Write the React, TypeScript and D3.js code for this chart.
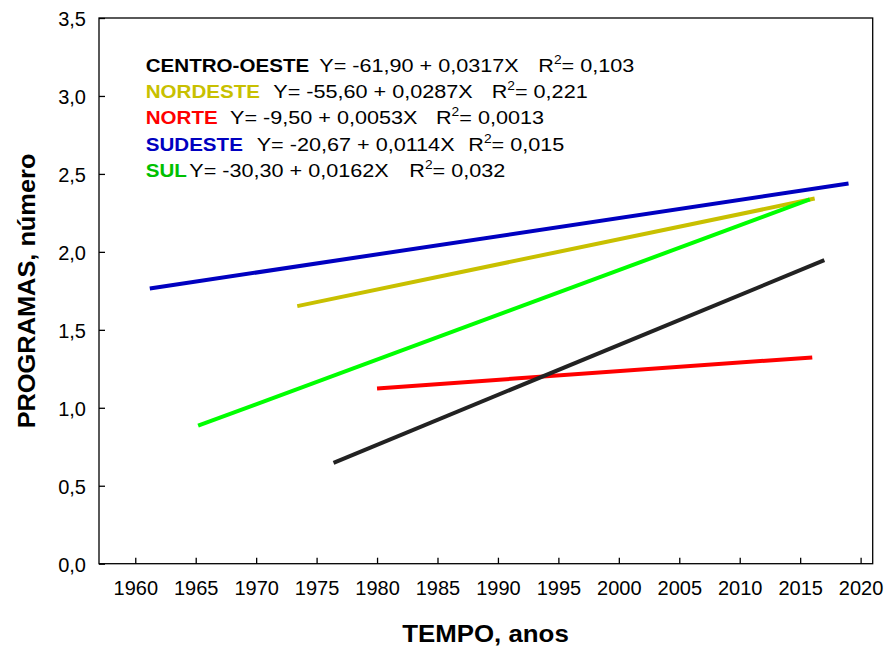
import React, { useEffect, useRef } from 'react';
import * as d3 from 'd3';

// regression lines: start / end of each fitted segment
const regions = ['SUDESTE', 'NORDESTE', 'SUL', 'NORTE', 'CENTRO-OESTE'];
const startYears = [1961.2, 1973.4, 1965.2, 1980.0, 1976.4];
const endYears = [2019.0, 2016.2, 2015.8, 2016.0, 2017.0];
const startValues = [1.765, 1.652, 0.885, 1.124, 0.647];
const endValues = [2.438, 2.342, 2.336, 1.323, 1.947];
const lineColors = ['#0000c0', '#c8c000', '#00ff00', '#ff0000', '#222222'];

// legend rows (top to bottom)
const legendNames = ['CENTRO-OESTE', 'NORDESTE', 'NORTE', 'SUDESTE', 'SUL'];
const legendEquations = [
  'Y= -61,90 + 0,0317X',
  'Y= -55,60 + 0,0287X',
  'Y= -9,50 + 0,0053X',
  'Y= -20,67 + 0,0114X',
  'Y= -30,30 + 0,0162X',
];
const legendR2 = ['0,103', '0,221', '0,0013', '0,015', '0,032'];
const legendColors = ['#000000', '#c8c000', '#ff0000', '#0000c0', '#00c000'];

const xTicks = [1960, 1965, 1970, 1975, 1980, 1985, 1990, 1995, 2000, 2005, 2010, 2015, 2020];
const yTicks = [0, 0.5, 1.0, 1.5, 2.0, 2.5, 3.0, 3.5];
const yTickLabels = ['0,0', '0,5', '1,0', '1,5', '2,0', '2,5', '3,0', '3,5'];

const FONT = '"Liberation Sans", Arial, sans-serif';

const App = () => {
  const ref = useRef(null);

  const graph = () => {
    const svg = d3.select(ref.current);
    svg.selectAll('*').remove();

    const left = 99, right = 872.7, top = 18, bottom = 563.7;

    const x = d3.scaleLinear().domain([1957, 2021]).range([left, right]);
    const y = d3.scaleLinear().domain([0, 3.5]).range([bottom, top]);

    const xAxis = svg.append('g')
      .attr('transform', `translate(0, ${bottom})`)
      .call(d3.axisBottom(x).tickValues(xTicks).tickFormat(d => String(d))
        .tickSizeInner(-6).tickSizeOuter(0).tickPadding(17));

    const yAxis = svg.append('g')
      .attr('transform', `translate(${left}, 0)`)
      .call(d3.axisLeft(y).tickValues(yTicks).tickFormat((d, i) => yTickLabels[i])
        .tickSizeInner(-6).tickSizeOuter(0).tickPadding(13));

    [xAxis, yAxis].forEach(a => {
      a.select('.domain').remove();
      a.selectAll('line').attr('stroke', '#000').attr('stroke-width', 1.3);
      a.selectAll('text')
        .style('font-family', FONT)
        .style('font-size', '20px')
        .attr('fill', '#000');
    });
    yAxis.selectAll('text').attr('dy', '0.38em');

    svg.append('rect')
      .attr('x', left).attr('y', top)
      .attr('width', right - left).attr('height', bottom - top)
      .attr('fill', 'none').attr('stroke', '#000').attr('stroke-width', 1.3);

    const segs = regions.map((r, i) => ({
      r, c: lineColors[i],
      pts: [[startYears[i], startValues[i]], [endYears[i], endValues[i]]],
    }));

    const line = d3.line().x(d => x(d[0])).y(d => y(d[1]));

    svg.selectAll('path.reg')
      .data(segs)
      .enter()
      .append('path')
      .attr('class', 'reg')
      .attr('d', d => line(d.pts))
      .attr('fill', 'none')
      .attr('stroke', d => d.c)
      .attr('stroke-width', 4)
      .attr('stroke-linecap', 'butt');

    // legend
    const rowY = [71.7, 98.3, 124.3, 150.7, 176.7];
    const eqX = [319.3, 273.3, 230, 256.7, 189.3];
    const rX = [538.3, 491.7, 436, 468.3, 409.3];
    const sx = 1.15, sxBold = 1.095;

    legendNames.forEach((name, i) => {
      const g = svg.append('g')
        .style('font-family', FONT)
        .style('font-size', '18.8px');

      g.append('text')
        .attr('transform', `translate(145.7, ${rowY[i]}) scale(${sxBold}, 1)`)
        .attr('fill', legendColors[i])
        .style('font-weight', 'bold')
        .text(name);

      g.append('text')
        .attr('transform', `translate(${eqX[i]}, ${rowY[i]}) scale(${sx}, 1)`)
        .attr('fill', '#000')
        .text(legendEquations[i]);

      const t = g.append('text')
        .attr('transform', `translate(${rX[i]}, ${rowY[i]}) scale(${sx}, 1)`)
        .attr('fill', '#000');
      t.append('tspan').text('R');
      t.append('tspan').attr('dy', -8).style('font-size', '12px').text('2');
      t.append('tspan').attr('dy', 8).text('= ' + legendR2[i]);
    });

    // axis titles
    svg.append('text')
      .attr('transform', `translate(485.5, 641.7) scale(1.1, 1)`)
      .attr('text-anchor', 'middle')
      .style('font-family', FONT)
      .style('font-size', '23.5px')
      .style('font-weight', 'bold')
      .text('TEMPO, anos');

    svg.append('text')
      .attr('transform', `translate(35, 291) rotate(-90) scale(1.08, 1)`)
      .attr('text-anchor', 'middle')
      .style('font-family', FONT)
      .style('font-size', '23.5px')
      .style('font-weight', 'bold')
      .text('PROGRAMAS, número');
  };

  useEffect(() => graph());

  return (
    <svg ref={ref} width="885" height="646"
      style={{ position: 'absolute', left: 0, top: 0, background: '#fff' }} />
  );
};

export default App;
